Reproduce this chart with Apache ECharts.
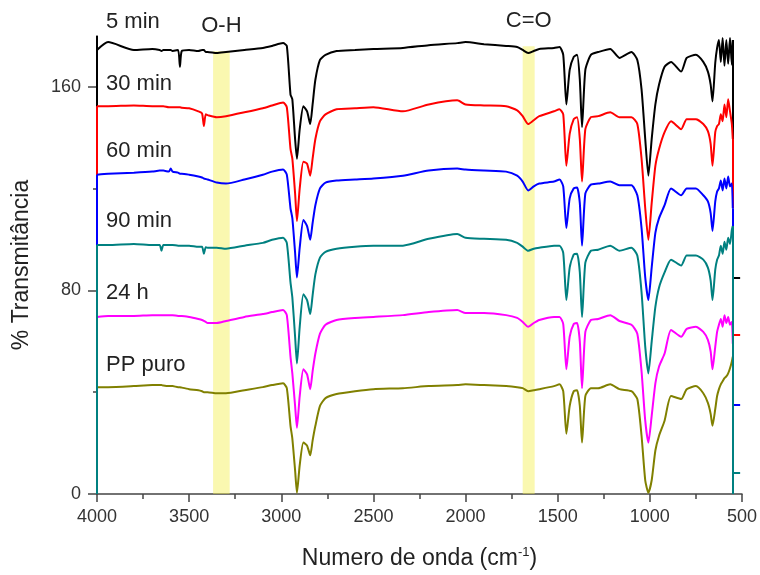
<!DOCTYPE html>
<html>
<head>
<meta charset="utf-8">
<script src="https://cdn.jsdelivr.net/npm/echarts@6/dist/echarts.min.js"></script>
<style>
  html, body { margin: 0; background: #fff; }
  #chart { width: 760px; height: 575px; }
</style>
</head>
<body>
<div id="chart"></div>
<script>
// wavenumbers (cm-1) shared by all spectra
const wavenumbers = [4000, 3940, 3800, 3700, 3660, 3650, 3640, 3610, 3600, 3590,
  3560, 3550, 3540, 3500, 3450, 3430, 3420, 3410, 3400, 3350,
  3300, 3200, 3100, 3050, 2990, 2970, 2950, 2940, 2925, 2915,
  2900, 2880, 2860, 2843, 2830, 2815, 2790, 2760, 2700, 2600,
  2500, 2340, 2200, 2045, 2000, 1900, 1780, 1720, 1690, 1660,
  1630, 1600, 1520, 1490, 1470, 1453, 1435, 1413, 1395, 1380,
  1368, 1350, 1320, 1280, 1215, 1165, 1100, 1068, 1045, 1025,
  1008, 990, 970, 950, 920, 885, 830, 800, 750, 710,
  685, 670, 660, 645, 635, 625, 615, 605, 595, 585,
  575, 565, 555, 550];

const min5 = [174.5, 177.6, 174.5, 174.9, 174.5, 174.1, 174.5, 174.5, 174.5, 174.1,
  174.5, 167.9, 174.1, 174.5, 174.1, 174.5, 174.5, 173.7, 173.7, 173.3,
  173.7, 174.5, 175.3, 176.1, 177.2, 176.1, 157.0, 155.1, 139.5, 131.8,
  143.4, 152.4, 150.4, 145.4, 153.1, 162.8, 170.6, 172.6, 174.1, 174.5,
  174.9, 175.3, 176.4, 177.2, 177.6, 176.8, 176.1, 175.7, 174.5, 173.3,
  174.1, 174.9, 175.3, 175.7, 172.6, 153.1, 166.7, 171.8, 172.6, 162.8,
  144.2, 166.7, 172.6, 173.7, 174.9, 171.4, 173.7, 170.6, 159.0, 139.5,
  125.1, 139.5, 153.1, 160.9, 167.9, 169.8, 166.0, 171.4, 172.6, 169.8,
  166.0, 160.9, 154.3, 169.5, 175.3, 178.4, 169.8, 179.2, 168.3, 178.4,
  169.1, 179.2, 168.7, 178.4];

const min30 = [152.4, 152.4, 152.7, 152.4, 152.4, 152.4, 152.4, 152.0, 152.0, 152.0,
  152.0, 152.0, 151.8, 151.6, 150.4, 149.6, 144.6, 149.2, 148.9, 148.1,
  148.5, 150.0, 151.6, 152.7, 153.9, 152.0, 135.6, 131.8, 118.1, 107.3,
  120.1, 130.6, 129.8, 125.1, 131.8, 139.5, 146.5, 149.2, 151.2, 151.6,
  152.0, 150.4, 153.1, 154.7, 153.1, 152.7, 152.4, 150.8, 148.5, 145.4,
  146.9, 148.5, 150.4, 151.2, 149.2, 129.0, 141.5, 147.3, 148.1, 139.5,
  122.8, 143.4, 148.1, 148.5, 150.0, 148.1, 148.1, 145.4, 131.8, 112.3,
  99.9, 114.3, 129.0, 135.6, 142.2, 146.5, 143.4, 147.3, 147.3, 145.4,
  142.6, 137.6, 129.0, 142.2, 144.6, 145.4, 149.2, 146.5, 153.1, 148.1,
  155.1, 150.4, 145.4, 139.5];

const min60 = [125.5, 125.9, 126.3, 126.7, 127.1, 127.1, 127.1, 126.7, 127.9, 126.7,
  126.3, 125.9, 125.9, 125.5, 124.8, 124.4, 124.0, 123.8, 123.6, 122.4,
  122.0, 123.6, 125.5, 126.7, 127.5, 125.5, 112.3, 108.4, 94.8, 85.1,
  96.8, 107.7, 105.3, 99.9, 106.5, 113.5, 120.1, 122.4, 123.2, 123.6,
  124.0, 125.1, 127.1, 127.9, 127.5, 127.1, 126.7, 125.1, 122.8, 119.3,
  120.9, 122.0, 122.8, 123.6, 120.9, 104.5, 116.2, 120.1, 120.5, 114.3,
  97.6, 118.1, 121.6, 122.0, 122.8, 121.3, 121.3, 117.4, 104.5, 85.1,
  76.2, 89.0, 102.6, 108.4, 113.5, 120.1, 117.4, 120.1, 120.1, 117.4,
  115.0, 110.4, 103.4, 115.0, 118.9, 120.1, 123.2, 119.3, 124.0, 120.1,
  124.8, 120.9, 122.0, 112.3];

const min90 = [97.9, 97.9, 98.3, 97.9, 97.9, 95.6, 97.9, 97.9, 97.9, 97.9,
  97.6, 97.6, 97.6, 97.6, 97.2, 97.2, 94.4, 97.0, 96.8, 96.8,
  96.4, 97.6, 98.7, 99.9, 100.7, 98.7, 83.2, 77.3, 61.8, 51.3,
  65.7, 78.5, 76.2, 70.7, 78.1, 86.3, 92.9, 95.2, 96.4, 97.2,
  97.6, 97.6, 100.3, 102.2, 100.7, 100.3, 99.9, 98.7, 97.2, 95.6,
  96.4, 96.8, 97.6, 97.6, 94.8, 76.2, 89.0, 94.1, 94.4, 87.1,
  69.6, 90.9, 95.6, 96.0, 97.6, 95.6, 96.8, 93.7, 79.3, 57.9,
  47.4, 59.9, 73.5, 81.2, 87.1, 92.1, 89.8, 93.7, 93.7, 92.1,
  89.0, 83.9, 76.2, 88.2, 92.1, 93.7, 97.6, 94.4, 99.1, 96.0,
  100.7, 98.3, 103.8, 105.3];

const h24 = [69.6, 70.0, 70.0, 70.3, 70.3, 70.3, 70.3, 70.3, 70.3, 70.3,
  70.0, 70.0, 70.0, 69.6, 68.8, 68.4, 68.0, 67.6, 67.2, 67.2,
  68.0, 69.6, 70.7, 71.5, 72.3, 70.3, 54.0, 47.4, 34.6, 26.0,
  38.5, 49.0, 47.0, 41.2, 48.2, 55.2, 63.0, 66.5, 68.4, 69.2,
  69.6, 70.3, 71.5, 72.3, 71.1, 71.1, 70.3, 69.2, 67.6, 65.7,
  67.2, 68.4, 69.6, 69.6, 66.8, 49.0, 61.8, 66.8, 67.2, 59.9,
  41.6, 63.7, 68.4, 68.8, 70.3, 68.0, 66.5, 63.0, 48.2, 28.8,
  20.2, 30.7, 43.5, 50.1, 55.2, 64.5, 61.8, 64.9, 65.7, 63.7,
  60.6, 56.0, 49.0, 57.9, 63.7, 66.5, 68.8, 65.7, 70.3, 67.2,
  69.6, 66.5, 67.6, 59.1];

const ppPuro = [42.0, 42.0, 42.4, 42.8, 42.8, 42.8, 42.6, 42.4, 42.4, 42.4,
  42.0, 42.0, 41.8, 41.2, 40.8, 40.4, 40.0, 40.0, 40.0, 39.6,
  39.6, 40.8, 42.0, 42.8, 43.5, 41.6, 26.8, 21.8, 9.3, 0.5,
  11.3, 20.2, 19.0, 15.2, 21.0, 26.8, 34.6, 37.7, 39.3, 40.4,
  41.2, 41.6, 42.4, 42.8, 43.1, 42.8, 42.4, 42.0, 41.6, 40.4,
  40.8, 41.2, 42.4, 43.1, 40.4, 23.7, 34.6, 40.4, 40.8, 34.6,
  20.2, 38.5, 41.6, 41.6, 43.1, 41.2, 40.4, 37.3, 22.9, 5.4,
  0.5, 5.4, 17.1, 22.9, 28.8, 38.5, 37.3, 41.2, 42.4, 39.6,
  35.8, 31.5, 26.8, 33.4, 38.5, 41.2, 43.1, 44.3, 45.5, 46.2,
  47.4, 49.4, 52.1, 54.0];

const seriesNames = ["5 min", "30 min", "60 min", "90 min", "24 h", "PP puro"];
const seriesValues = [min5, min30, min60, min90, h24, ppPuro];
const seriesColors = ["#000000", "#ff0000", "#0000ff", "#008080", "#ff00ff", "#808000"];

// absorption bands highlighted in yellow: [from, to, top]
const bandNames = ["O-H", "C=O"];
const bandRanges = [[3370, 3280, 174], [1690, 1625, 176]];

// little right-hand layer ticks left by the stacked plot (black, red, blue, teal)
const layerTickValues = [85, 62.5, 35, 8.5];
const layerTickSpan = [550, 510];

const xTicks = { min: 500, max: 4000, interval: 500 };
const yLabelTicks = [0, 80, 160];
const yMinorTicks = [40, 120];
const yMax = 180;

const FONT = "Arial, 'Liberation Sans', sans-serif";

const chart = echarts.init(document.getElementById("chart"));

const wFirst = wavenumbers[0];
const wLast = wavenumbers[wavenumbers.length - 1];

const series = seriesNames.map((name, k) => {
  const vals = seriesValues[k];
  // vertical drops at both ends down to the next layer, plus a small tick on the right
  const edges = [];
  if (k < 4) {
    const nextStart = k < 3 ? seriesValues[k + 1][0] : 0;
    const nextEnd = k < 3 ? seriesValues[k + 1][vals.length - 1] : 0;
    edges.push([{ coord: [wFirst, k === 0 ? yMax : vals[0]] }, { coord: [wFirst, nextStart] }]);
    edges.push([{ coord: [wLast, vals[vals.length - 1]] }, { coord: [wLast, nextEnd] }]);
    edges.push([{ coord: [layerTickSpan[0], layerTickValues[k]] }, { coord: [layerTickSpan[1], layerTickValues[k]] }]);
  }
  return {
    name: name,
    type: "line",
    data: wavenumbers.map((w, i) => [w, vals[i]]),
    showSymbol: false,
    smooth: 0.2,
    lineStyle: { color: seriesColors[k], width: 2 },
    itemStyle: { color: seriesColors[k] },
    z: 3 + (k < 4 ? 6 - k : 0),
    markLine: edges.length ? {
      silent: true,
      symbol: "none",
      label: { show: false },
      lineStyle: { color: seriesColors[k], width: 2, type: "solid" },
      data: edges,
    } : undefined,
  };
});

series.push({
  name: "bands",
  type: "line",
  data: [],
  z: 20,
  markArea: {
    silent: true,
    itemStyle: { color: "rgba(245, 240, 80, 0.45)" },
    label: {
      show: true,
      position: "top",
      distance: 14,
      color: "#222",
      fontSize: 22,
      fontFamily: FONT,
    },
    data: bandRanges.map((b, i) => [
      { name: bandNames[i], xAxis: b[0], yAxis: b[2] },
      { xAxis: b[1], yAxis: 0 },
    ]),
  },
});

const textLabels = [
  { text: "5 min", y: 22 },
  { text: "30 min", y: 84 },
  { text: "60 min", y: 151 },
  { text: "90 min", y: 221 },
  { text: "24 h", y: 293 },
  { text: "PP puro", y: 365 },
];

const option = {
  animation: false,
  backgroundColor: "#fff",
  grid: { left: 97, right: 18, top: 36, bottom: 76 },
  xAxis: {
    type: "value",
    inverse: true,
    min: xTicks.min,
    max: xTicks.max,
    interval: xTicks.interval,
    name: "Numero de onda (cm{sup|-1})",
    nameLocation: "middle",
    nameGap: 52,
    nameTextStyle: {
      fontSize: 23,
      color: "#222",
      fontFamily: FONT,
      rich: { sup: { fontSize: 13, verticalAlign: "top", padding: [0, 0, 12, 0], color: "#222", fontFamily: FONT } },
    },
    axisLine: { show: true, lineStyle: { color: "#444", width: 1.5 } },
    axisTick: { show: true, length: 8, lineStyle: { color: "#444", width: 1.5 } },
    minorTick: { show: true, splitNumber: 2, length: 5, lineStyle: { color: "#444", width: 1.5 } },
    axisLabel: { fontSize: 18, color: "#333", fontFamily: FONT, margin: 14, formatter: (v) => String(v) },
    splitLine: { show: false },
  },
  yAxis: [
    {
      type: "value",
      min: 0,
      max: yMax,
      name: "% Transmitância",
      nameLocation: "middle",
      nameGap: 64,
      nameTextStyle: { fontSize: 23, color: "#222", fontFamily: FONT },
      axisLine: { show: true, lineStyle: { color: "#000", width: 1.5 } },
      axisTick: { show: true, length: 9, customValues: yLabelTicks, lineStyle: { color: "#444", width: 1.5 } },
      axisLabel: { fontSize: 18, color: "#333", fontFamily: FONT, margin: 16, customValues: yLabelTicks },
      splitLine: { show: false },
    },
    {
      type: "value",
      min: 0,
      max: yMax,
      position: "left",
      axisLine: { show: false },
      axisTick: { show: true, length: 4, customValues: yMinorTicks, lineStyle: { color: "#444", width: 1.5 } },
      axisLabel: { show: false },
      splitLine: { show: false },
    },
  ],
  graphic: textLabels.map((t) => ({
    type: "text",
    x: 106,
    y: t.y,
    z: 50,
    style: { text: t.text, fontSize: 22, fontFamily: FONT, fill: "#222", verticalAlign: "middle" },
  })),
  series: series,
};

chart.setOption(option);
</script>
</body>
</html>
